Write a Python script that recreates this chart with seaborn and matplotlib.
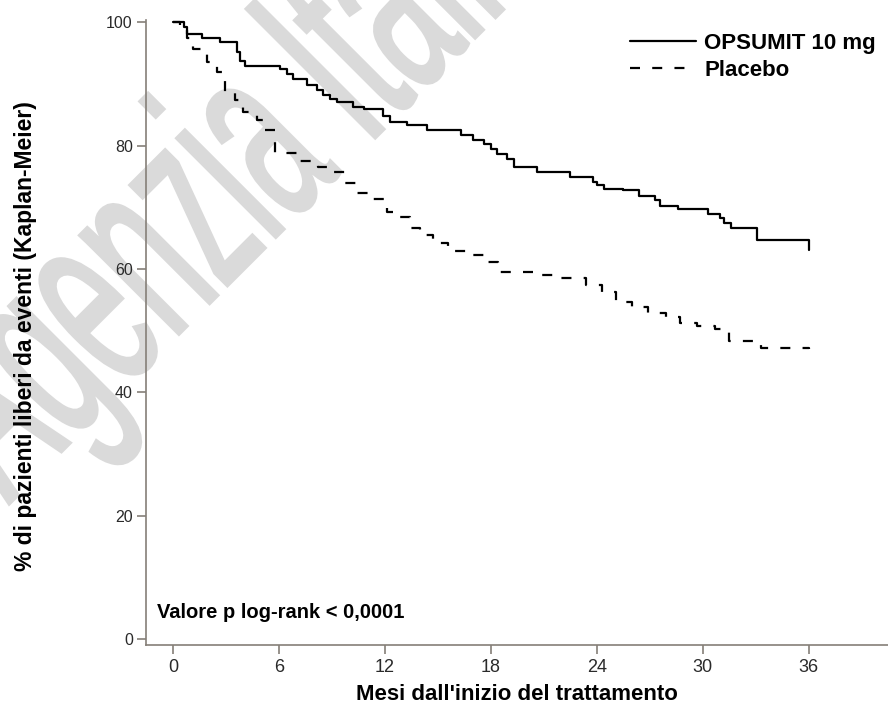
import matplotlib
matplotlib.use("Agg")
import matplotlib.pyplot as plt
from matplotlib.lines import Line2D
from matplotlib.textpath import TextPath
from matplotlib.patches import PathPatch
from matplotlib.font_manager import FontProperties
from matplotlib.transforms import Affine2D
import numpy as np
import pandas as pd
import seaborn as sns

# Kaplan-Meier steps: month of each drop, % event-free after it
opsumit_months = [0, 0.6, 0.78, 1.63, 2.66, 3.61, 3.8, 4.08, 6.07, 6.45, 6.82, 7.58,
                  8.15, 8.52, 8.9, 9.28, 10.2, 10.8, 11.9, 12.3, 13.25, 14.4, 16.3,
                  17.0, 17.6, 18.0, 18.35, 18.9, 19.3, 20.6, 22.5, 23.8, 24.0, 24.4,
                  25.5, 26.4, 27.3, 27.6, 28.6, 30.3, 31.0, 31.2, 31.6, 33.1, 36.0]
opsumit_pct = [100, 99.3, 98.2, 97.4, 96.8, 95.2, 93.8, 93.0, 92.5, 91.7, 90.9, 89.8,
               89.0, 88.2, 87.6, 87.1, 86.3, 86.0, 84.9, 83.8, 83.3, 82.6, 81.7,
               80.9, 80.3, 79.5, 78.7, 77.9, 76.6, 75.8, 74.9, 74.1, 73.6, 73.0,
               72.8, 71.9, 71.2, 70.3, 69.8, 69.0, 68.2, 67.4, 66.6, 64.7, 63.1]

placebo_months = [0, 0.4, 0.78, 1.15, 1.9, 2.5, 2.95, 3.5, 3.97, 4.75, 5.2, 5.8, 7.2,
                  8.2, 8.9, 9.75, 10.4, 11.2, 12.1, 12.5, 13.4, 14.0, 14.7, 15.6,
                  16.7, 17.6, 18.4, 20.5, 21.5, 23.4, 24.3, 25.1, 26.0, 26.9, 27.9,
                  28.7, 29.7, 30.7, 31.5, 33.3, 36.0]
placebo_pct = [100, 99.3, 97.4, 95.7, 93.6, 92.0, 88.5, 87.4, 85.4, 84.1, 82.5, 78.8,
               77.6, 76.5, 75.7, 73.9, 72.4, 71.3, 69.2, 68.4, 66.6, 65.5, 64.3, 63.0,
               62.2, 61.2, 59.5, 59.0, 58.6, 57.4, 56.3, 54.7, 53.9, 52.9, 52.2,
               51.2, 50.7, 50.2, 48.4, 47.2, 47.0]

labels = ["OPSUMIT 10 mg", "Placebo"]
x_ticks = [0, 6, 12, 18, 24, 30, 36]
y_ticks = [0, 20, 40, 60, 80, 100]
watermark = "Agenzia Italiana del Farmaco"

sns.set_style("ticks")
plt.rcParams["font.family"] = ["Liberation Sans", "DejaVu Sans"]
plt.rcParams["text.color"] = "black"

fig = plt.figure(figsize=(8.88, 7.11), dpi=100)
ax = fig.add_axes([146 / 888, 1 - 645 / 711, 1 - 146 / 888, (645 - 20) / 711])
ax.patch.set_visible(False)

dash = (0, (4.5, 5.5))
sns.lineplot(x=opsumit_months, y=opsumit_pct, drawstyle="steps-post", color="black",
             lw=1.6, estimator=None, sort=False, ax=ax)
sns.lineplot(x=placebo_months, y=placebo_pct, drawstyle="steps-post", color="black",
             lw=1.6, linestyle=dash, estimator=None, sort=False, ax=ax)

ax.set_xlim(-1.53, 40.5)
ax.set_ylim(-1.0, 100.4)
ax.set_xticks(x_ticks)
ax.set_yticks(y_ticks)
sns.despine(ax=ax)
for s in ["left", "bottom"]:
    ax.spines[s].set_color("#857f78")
    ax.spines[s].set_linewidth(1.2)
ax.tick_params(axis="both", color="#857f78", width=1.2, length=6.5, labelcolor="#2a2a2a")
ax.tick_params(axis="y", labelsize=11.5, pad=3)
ax.tick_params(axis="x", labelsize=13, pad=3.5)
for t in ax.get_xticklabels():
    t.set_family(["Liberation Sans Narrow", "Liberation Sans"])
ax.set_xlabel("")
ax.set_ylabel("")

fig.text(26 / 888, 1 - 336 / 711, "% di pazienti liberi da eventi (Kaplan-Meier)",
         rotation=90, ha="center", va="center", fontsize=16.5, fontweight="bold")
fig.text(517 / 888, 1 - 694 / 711, "Mesi dall'inizio del trattamento",
         ha="center", va="center", fontsize=16, fontweight="bold")
ax.text(-0.9, 4.2, "Valore p log-rank < 0,0001", ha="left", va="center",
        fontsize=14.5, fontweight="bold")

handles = [Line2D([], [], color="black", lw=1.6),
           Line2D([], [], color="black", lw=1.6, linestyle=dash)]
ax.legend(handles, labels, loc="upper left", bbox_to_anchor=(630 / 888, 1 - 33 / 711),
          bbox_transform=fig.transFigure, frameon=False, borderpad=0, borderaxespad=0,
          handlelength=2.95, handletextpad=0.4, labelspacing=0.25,
          prop={"weight": "bold", "size": 16})

# light grey diagonal watermark behind the chart (narrow letters, drawn in pixels)
wm_path = TextPath((0, 0), watermark, size=1, prop=FontProperties(family="Liberation Sans"))
wm_tr = Affine2D().scale(130, 265).rotate_deg(45).translate(9, 711 - 504)
fig.add_artist(PathPatch(wm_path, transform=wm_tr, facecolor="#dadada",
                         edgecolor="#dadada", linewidth=2.5, zorder=-1))

fig.savefig("out.png", dpi=100)
